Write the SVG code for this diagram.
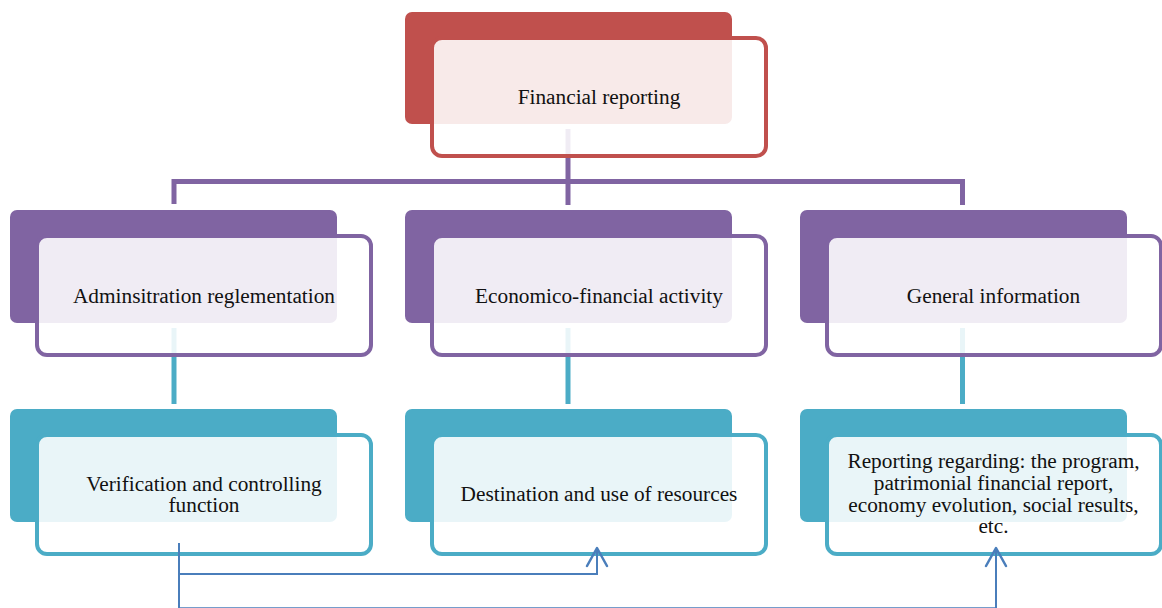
<svg xmlns="http://www.w3.org/2000/svg" width="1162" height="608" viewBox="0 0 1162 608">
<style>
.bk{stroke:none}
.fr{fill:#fff;fill-opacity:0.88;stroke-width:4}
.red .bk{fill:#C0504D}.red .fr{stroke:#C0504D}
.pur .bk{fill:#8064A2}.pur .fr{stroke:#8064A2}
.teal .bk{fill:#4BACC6}.teal .fr{stroke:#4BACC6}
text{font-family:"Liberation Serif","Times New Roman",serif;font-size:21.3px;fill:#111;text-anchor:middle}
.lp{fill:none;stroke:#8064A2;stroke-width:5}
.lt{fill:none;stroke:#4BACC6;stroke-width:5}
.ar{fill:none;stroke:#4A7EBB;stroke-width:2}
</style>
<defs>
<marker id="ah" viewBox="-20 -12 22 24" refX="0" refY="0" markerWidth="22" markerHeight="24" markerUnits="userSpaceOnUse" orient="auto">
<path d="M-18,-10 L0,0 L-18,10" fill="none" stroke="#4A7EBB" stroke-width="2.5" stroke-linejoin="round" stroke-linecap="round"/>
</marker>
</defs>
<rect width="1162" height="608" fill="#fff"/>
<g id="connectors">
<path class="lp" d="M568,129 V205"/>
<path class="lp" d="M174,204 V181.5 H962.5 V205"/>
<path class="lt" d="M174,328 V404"/>
<path class="lt" d="M568,328 V404"/>
<path class="lt" d="M962.5,328 V404"/>
</g>
<g id="n-root" class="red">
<rect class="bk" x="405" y="12" width="327" height="112" rx="7"/>
<rect class="fr" x="432" y="38" width="334" height="118" rx="10"/>
<text x="599" y="104">Financial reporting</text>
</g>
<g id="n-admin" class="pur">
<rect class="bk" x="10" y="210" width="327" height="113" rx="7"/>
<rect class="fr" x="37" y="236" width="334" height="119" rx="10"/>
<text x="204" y="302.7">Adminsitration reglementation</text>
</g>
<g id="n-econ" class="pur">
<rect class="bk" x="405" y="210" width="327" height="113" rx="7"/>
<rect class="fr" x="432" y="236" width="334" height="119" rx="10"/>
<text x="599" y="302.7">Economico-financial activity</text>
</g>
<g id="n-general" class="pur">
<rect class="bk" x="800" y="210" width="327" height="113" rx="7"/>
<rect class="fr" x="827" y="236" width="334" height="119" rx="10"/>
<text x="993.5" y="302.7">General information</text>
</g>
<g id="n-verif" class="teal">
<rect class="bk" x="10" y="409" width="327" height="113" rx="7"/>
<rect class="fr" x="37" y="435" width="334" height="119" rx="10"/>
<text x="204" y="490.7">Verification and controlling</text>
<text x="204" y="512">function</text>
</g>
<g id="n-dest" class="teal">
<rect class="bk" x="405" y="409" width="327" height="113" rx="7"/>
<rect class="fr" x="432" y="435" width="334" height="119" rx="10"/>
<text x="599" y="501">Destination and use of resources</text>
</g>
<g id="n-report" class="teal">
<rect class="bk" x="800" y="409" width="327" height="113" rx="7"/>
<rect class="fr" x="827" y="435" width="334" height="119" rx="10"/>
<text x="993.5" y="468.3">Reporting regarding: the program,</text>
<text x="993.5" y="490">patrimonial financial report,</text>
<text x="993.5" y="511.7">economy evolution, social results,</text>
<text x="993.5" y="533.3">etc.</text>
</g>
<g id="connectors-arrows">
<path class="ar" d="M179,543 V574 H597 V548" marker-end="url(#ah)"/>
<path class="ar" d="M179,543 V608.3 H996 V548" marker-end="url(#ah)"/>
</g>
</svg>
